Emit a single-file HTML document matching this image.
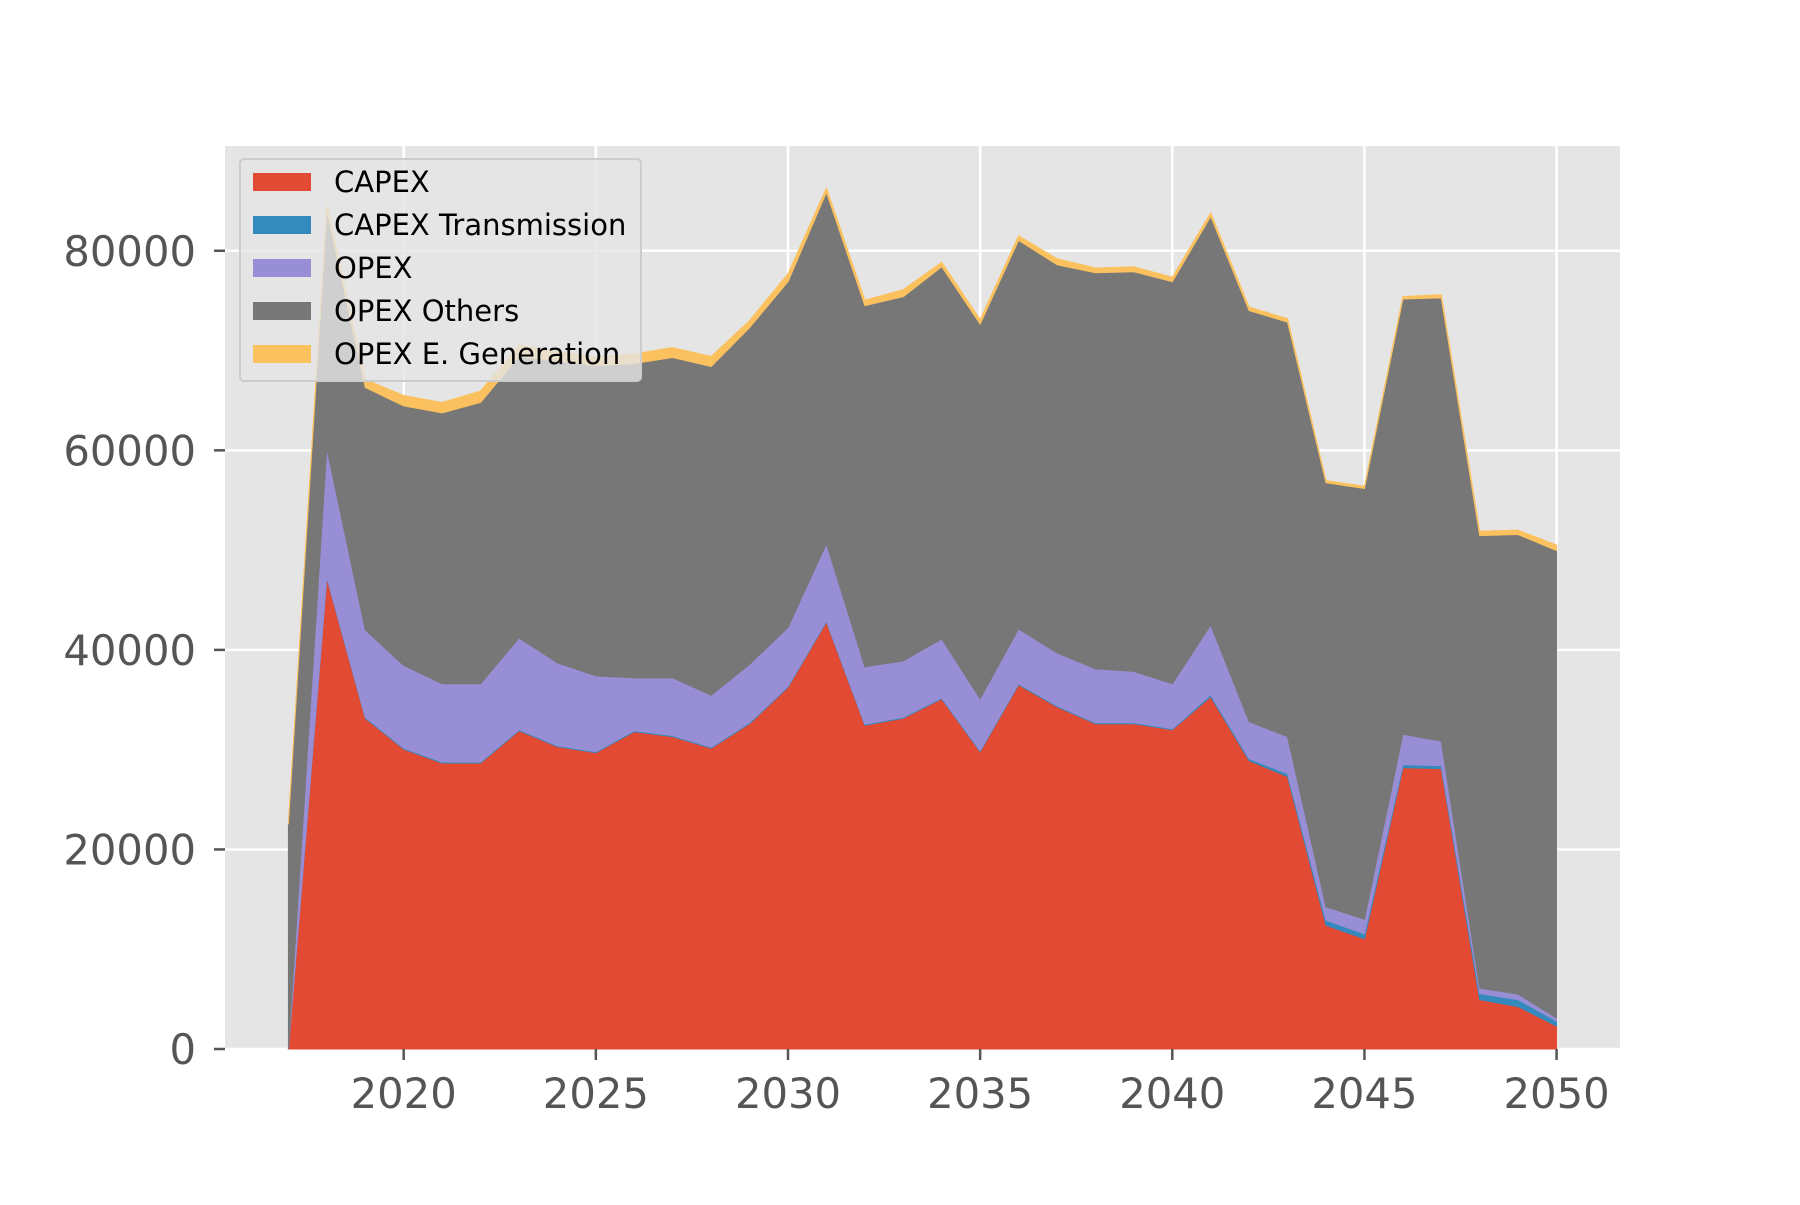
<!DOCTYPE html>
<html><head><meta charset="utf-8"><style>
html,body{margin:0;padding:0;background:#fff}
svg text{font-family:"DejaVu Sans","Liberation Sans",sans-serif}
</style></head><body>
<svg id="chart" width="1800" height="1200" viewBox="0 0 1800 1200" xmlns="http://www.w3.org/2000/svg">
<rect x="225" y="146" width="1395" height="903" fill="#E5E5E5"/>
<g id="grid"></g>
<g id="areas"></g>
<g id="axes"></g>
<g>
<rect x="240" y="159" width="401" height="222" rx="4" fill="#E5E5E5" fill-opacity="0.8" stroke="#CCCCCC" stroke-width="2"/>
<g id="legend"></g>
</g>
</svg>
<script>
const years=[];for(let y=2017;y<=2050;y++)years.push(y);
const capex=[0,47200,33150,30050,28660,28660,31900,30300,29700,31800,31300,30150,32600,36250,42800,32450,33150,35100,29800,36500,34300,32600,32600,32000,35300,28900,27300,12400,11050,28200,28100,4950,4250,2300];
const capexTrans=[0,100,100,100,100,100,100,100,100,100,100,100,100,100,100,100,100,100,100,100,100,100,100,100,200,200,300,500,500,300,300,600,700,500];
const opex=[0,12900,8750,8300,7840,7840,9200,8300,7600,5300,5800,5200,5850,5900,7750,5750,5650,5900,5200,5500,5300,5400,5150,4500,7000,3700,3700,1350,1450,3050,2450,550,550,300];
const opexOthers=[22550,23800,24300,26000,27150,28200,28200,30250,31100,31500,32100,32950,33750,34650,35200,36200,36500,37300,37550,38950,38900,39700,40050,40300,40950,41200,41550,42500,43170,43610,44430,45350,46060,46850];
const opexGen=[200,600,800,1050,1050,1150,1150,920,900,950,1000,1000,700,800,450,550,700,450,450,450,600,470,500,450,350,350,350,220,230,240,320,450,440,550];
const seriesNames=["CAPEX","CAPEX Transmission","OPEX","OPEX Others","OPEX E. Generation"];
const seriesColors=["#E24A33","#348ABD","#988ED5","#777777","#FBC15E"];
const yTicks=[0,20000,40000,60000,80000];
const xTicks=[2020,2025,2030,2035,2040,2045,2050];

const L=225,R=1620,T=146,B=1049;
const xMin=2017-1.65,xMax=2050+1.65,yMax=90500;
const X=v=>L+(v-xMin)/(xMax-xMin)*(R-L);
const Y=v=>B-v/yMax*(B-T);
const NS="http://www.w3.org/2000/svg";
function mk(tag,attrs,parent){const e=document.createElementNS(NS,tag);for(const k in attrs)e.setAttribute(k,attrs[k]);parent.appendChild(e);return e;}

const grid=document.getElementById('grid');
yTicks.forEach(t=>{const l=mk('line',{x1:L,x2:R,y1:Y(t),y2:Y(t),stroke:'#fff','stroke-width':2.5},grid);

});
xTicks.forEach(t=>{const l=mk('line',{x1:X(t),x2:X(t),y1:T,y2:B,stroke:'#fff','stroke-width':2.5},grid);

});

const all=[capex,capexTrans,opex,opexOthers,opexGen];
const areas=document.getElementById('areas');
let base=years.map(()=>0);
all.forEach((s,i)=>{
  const top=base.map((b,j)=>b+s[j]);
  let d='M'+years.map((yr,j)=>X(yr).toFixed(2)+','+Y(top[j]).toFixed(2)).join('L');
  for(let j=years.length-1;j>=0;j--)d+='L'+X(years[j]).toFixed(2)+','+Y(base[j]).toFixed(2);
  d+='Z';
  const p=mk('path',{d:d,fill:seriesColors[i],stroke:seriesColors[i],'stroke-width':1,'stroke-linejoin':'round'},areas);
  
  
  base=top;
});

const axes=document.getElementById('axes');
yTicks.forEach(t=>{
  const l=mk('line',{x1:L-11,x2:L,y1:Y(t),y2:Y(t),stroke:'#555','stroke-width':2.5},axes);
  
  
  const tx=mk('text',{x:L-29,y:Y(t)+15,'text-anchor':'end','font-size':41.7,fill:'#555'},axes);
  tx.textContent=t;
  
  
});
xTicks.forEach(t=>{
  const l=mk('line',{x1:X(t),x2:X(t),y1:B,y2:B+11,stroke:'#555','stroke-width':2.5},axes);
  
  
  const tx=mk('text',{x:X(t),y:B+59,'text-anchor':'middle','font-size':41.7,fill:'#555'},axes);
  tx.textContent=t;
  
  
});

const leg=document.getElementById('legend');
seriesNames.forEach((n,i)=>{
  const cy=182+i*43;
  const r=mk('rect',{x:253,y:cy-9,width:58,height:18,fill:seriesColors[i]},leg);
  
  
  const tx=mk('text',{x:334,y:cy+10,'font-size':29,fill:'#000'},leg);
  tx.textContent=n;
  
  
});
</script>
</body></html>
